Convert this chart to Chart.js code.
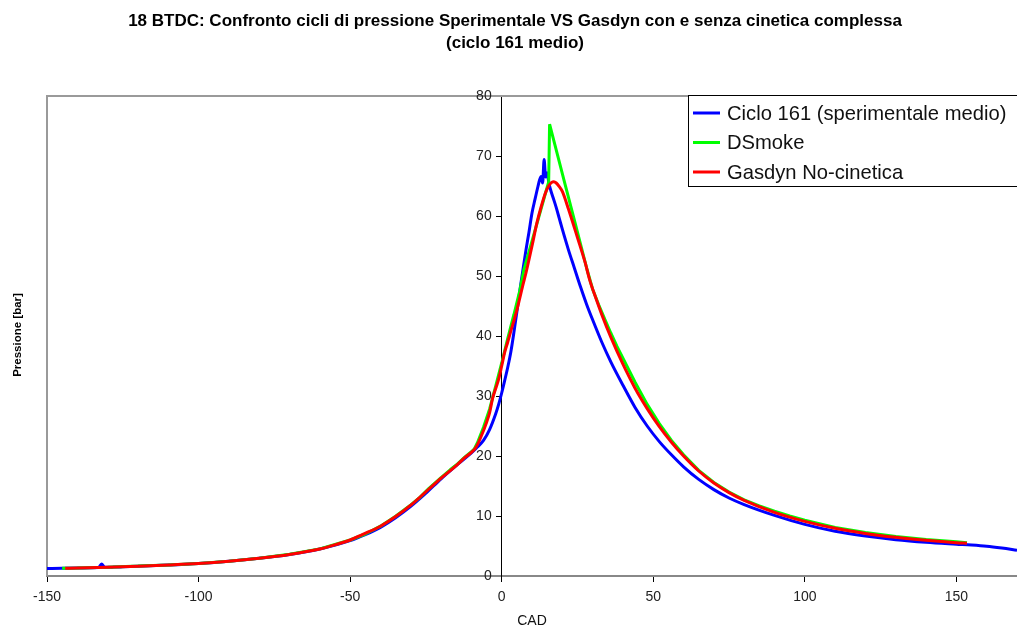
<!DOCTYPE html>
<html>
<head>
<meta charset="utf-8">
<script src="https://cdn.jsdelivr.net/npm/chart.js@4/dist/chart.umd.min.js"></script>
<style>
  html, body { margin: 0; padding: 0; background: #ffffff; overflow: hidden; }
  canvas { display: block; }
</style>
</head>
<body>
<canvas id="chart" width="1017" height="630"></canvas>
<script>
// Titles and labels
const titleLines = [
  '18 BTDC: Confronto cicli di pressione Sperimentale VS Gasdyn con e senza cinetica complessa',
  '(ciclo 161 medio)'
];
const xAxisTitle = 'CAD';
const yAxisTitle = 'Pressione [bar]';
const seriesLabels = ['Ciclo 161 (sperimentale medio)', 'DSmoke', 'Gasdyn No-cinetica'];

// Axis ranges and tick steps
const xRange = [-150, 170];
const xStep = 50;
const yRange = [0, 80];
const yStep = 10;

// Ciclo 161 (experimental mean cycle): crank angle [deg] and pressure [bar]
const cadSper = [-150, -145, -140, -135, -133, -132, -131, -128, -125, -120, -110, -100, -90, -80, -70, -60,
  -50, -45, -40, -35, -30, -25, -20, -15, -10, -8, -6, -4, -2, -1, 0, 1, 2, 3, 4, 5, 6, 7, 8, 9, 10, 11, 12,
  12.5, 13, 13.5, 14, 14.5, 15, 15.5, 16, 17, 18, 19, 20, 22, 24, 26, 28, 30, 33, 36, 40, 44, 48, 52, 56, 60,
  65, 70, 75, 80, 90, 100, 110, 120, 130, 140, 150, 155, 160, 165, 170];
const pSper = [1.25, 1.28, 1.32, 1.38, 1.40, 2.0, 1.45, 1.48, 1.53, 1.62, 1.82, 2.08, 2.45, 2.95, 3.6, 4.5,
  5.9, 6.9, 8.1, 9.7, 11.6, 13.8, 16.2, 18.4, 20.5, 21.5, 22.6, 24.4, 27.0, 28.6, 30.5, 32.6, 34.8, 37.3, 40.5, 44.0, 47.6, 51.0, 54.3, 57.3, 60.5, 62.8, 65.0,
  66.0, 66.6, 65.5, 69.4, 66.5, 67.2, 65.7, 64.6, 63.0, 61.4, 59.6, 57.8, 54.4, 51.3, 48.2, 45.3, 42.7, 39.0, 35.7, 31.8, 28.1, 25.0, 22.4, 20.2, 18.2,
  16.1, 14.4, 13.0, 11.9, 10.1, 8.6, 7.45, 6.65, 6.05, 5.62, 5.3, 5.15, 4.95, 4.65, 4.3];

// DSmoke simulation
const cadDsmoke = [-145, -140, -130, -120, -110, -100, -90, -80, -70, -60, -50, -45, -40, -35, -30, -27, -24, -20,
  -17, -15, -12, -10, -9, -8, -6, -4, -2, 0, 2, 4, 6, 7.3, 10, 12, 14, 15.5, 15.8, 21, 24.3, 28.2, 30, 32, 34, 36,
  38, 40, 44, 48, 52, 56, 60, 65, 70, 75, 80, 85, 90, 95, 100, 110, 120, 130, 140, 150, 153.5];
const pDsmoke = [1.3, 1.33, 1.46, 1.65, 1.85, 2.1, 2.47, 2.97, 3.62, 4.52, 6.0, 7.0, 8.3, 9.95, 11.85, 13.1, 14.6, 16.4,
  17.7, 18.5, 19.9, 20.7, 21.2, 22.2, 24.8, 27.8, 31.6, 35.5, 39.6, 43.5, 47.6, 51.0, 55.8, 59.4, 63.0, 65.7, 75.3, 65.1, 58.7, 51.0, 47.8, 45.2, 42.8, 40.5,
  38.3, 36.3, 32.3, 28.6, 25.4, 22.6, 20.2, 17.6, 15.6, 14.0, 12.7, 11.7, 10.8, 10.0, 9.3, 8.1, 7.25, 6.6, 6.1, 5.7, 5.55];

// Gasdyn without complex kinetics
const cadGasdyn = [-144, -140, -130, -120, -110, -100, -90, -80, -70, -60, -57, -50, -46, -40, -35, -30, -24, -20,
  -15, -12, -10, -9, -8, -7, -5, -4, -3, -2, -1, 0, 1, 2, 3, 4, 5, 6, 7, 8, 10, 11.6, 13, 14.4, 15.5, 16.5, 17.2,
  18, 19, 20, 22, 25, 27.5, 29, 31, 33, 36, 40, 44, 48, 52, 56, 60, 65, 70, 75, 80, 90, 100, 110, 120, 130,
  140, 150, 153.5];
const pGasdyn = [1.28, 1.32, 1.45, 1.64, 1.84, 2.08, 2.45, 2.95, 3.6, 4.5, 4.9, 6.0, 6.9, 8.3, 9.9, 11.8, 14.5, 16.3,
  18.4, 19.8, 20.6, 21.1, 21.9, 23.0, 25.6, 27.2, 29.6, 31.2, 32.8, 35.0, 37.3, 39.0, 40.8, 42.5, 44.3, 46.4, 48.5, 50.5, 55.0, 58.8, 61.5, 63.8, 65.0, 65.6, 65.7,
  65.5, 64.9, 64.1, 61.2, 56.4, 52.3, 49.4, 46.4, 43.6, 39.8, 35.3, 31.3, 27.9, 24.9, 22.3, 20.0, 17.5, 15.5, 13.9, 12.6, 10.6, 9.1, 7.95, 7.1, 6.45,
  5.95, 5.55, 5.45];

const seriesColors = ['#0000ff', '#00ff00', '#ff0000'];
const FONT = "'Liberation Sans', Arial, sans-serif";

const toPoints = (xs, ys) => xs.map((x, i) => ({ x: x, y: ys[i] }));

const lineStyle = (label, color, data, order, smooth) => ({
  label: label,
  data: data,
  borderColor: color,
  backgroundColor: color,
  borderWidth: 3,
  borderJoinStyle: smooth ? 'round' : 'bevel',
  pointRadius: 0,
  fill: false,
  cubicInterpolationMode: smooth ? 'monotone' : 'default',
  tension: 0,
  order: order
});

// Plot frame, y tick labels, axis title, main title and legend box
const decorations = {
  id: 'decorations',
  beforeDatasetsDraw(chart) {
    const { ctx, chartArea } = chart;
    ctx.save();
    ctx.strokeStyle = '#9a9a9a';
    ctx.lineWidth = 2;
    ctx.beginPath();
    ctx.moveTo(chartArea.left, chartArea.bottom);
    ctx.lineTo(chartArea.left, chartArea.top);
    ctx.lineTo(chartArea.right + 2, chartArea.top);
    ctx.stroke();
    ctx.restore();
  },
  afterDraw(chart) {
    const { ctx } = chart;
    const xs = chart.scales.x;
    const ys = chart.scales.y;
    ctx.save();

    // y tick labels, placed left of the axis that crosses at x = 0
    const axisX = xs.getPixelForValue(0);
    ctx.fillStyle = '#222';
    ctx.font = '14px ' + FONT;
    ctx.textAlign = 'right';
    ctx.textBaseline = 'middle';
    ys.ticks.forEach(t => {
      ctx.fillText(t.label, axisX - 10, ys.getPixelForValue(t.value));
    });

    // main title
    ctx.fillStyle = '#000';
    ctx.textAlign = 'center';
    ctx.font = 'bold 17px ' + FONT;
    ctx.fillText(titleLines[0], 515, 21.5);
    ctx.fillText(titleLines[1], 515, 43.5);

    // y axis title
    ctx.save();
    ctx.translate(18, 335);
    ctx.rotate(-Math.PI / 2);
    ctx.font = 'bold 11.5px ' + FONT;
    ctx.fillText(yAxisTitle, 0, 0);
    ctx.restore();

    // legend
    const lx = 688, ly = 95, lh = 91;
    ctx.fillStyle = '#fff';
    ctx.fillRect(lx, ly, 340, lh);
    ctx.strokeStyle = '#000';
    ctx.lineWidth = 1;
    ctx.strokeRect(lx + 0.5, ly + 0.5, 340, lh);
    ctx.font = '20.2px ' + FONT;
    ctx.textAlign = 'left';
    ctx.textBaseline = 'middle';
    const rows = [113, 142.5, 172];
    chart.data.datasets.forEach((ds, i) => {
      ctx.strokeStyle = ds.borderColor;
      ctx.lineWidth = 3;
      ctx.beginPath();
      ctx.moveTo(693, rows[i]);
      ctx.lineTo(720, rows[i]);
      ctx.stroke();
      ctx.fillStyle = '#111';
      ctx.fillText(ds.label, 727, rows[i] + 1);
    });
    ctx.restore();
  }
};

new Chart(document.getElementById('chart'), {
  type: 'line',
  data: {
    datasets: [
      lineStyle(seriesLabels[0], seriesColors[0], toPoints(cadSper, pSper), 2, true),
      lineStyle(seriesLabels[1], seriesColors[1], toPoints(cadDsmoke, pDsmoke), 1, false),
      lineStyle(seriesLabels[2], seriesColors[2], toPoints(cadGasdyn, pGasdyn), 0, true)
    ]
  },
  options: {
    responsive: false,
    animation: false,
    devicePixelRatio: 1,
    layout: { padding: { left: 47, right: 0, top: 96, bottom: 0 } },
    plugins: {
      legend: { display: false },
      title: { display: false },
      tooltip: { enabled: false }
    },
    scales: {
      x: {
        type: 'linear',
        position: 'bottom',
        min: xRange[0],
        max: xRange[1],
        ticks: {
          stepSize: xStep,
          includeBounds: false,
          maxRotation: 0,
          autoSkip: false,
          padding: 7,
          color: '#222',
          font: { family: FONT, size: 14 }
        },
        grid: { drawOnChartArea: false, drawTicks: true, tickLength: 6, tickColor: '#000', tickWidth: 1 },
        border: { display: true, color: '#888', width: 2 },
        title: {
          display: true,
          text: xAxisTitle,
          color: '#111',
          font: { family: FONT, size: 14 },
          padding: { top: 4, bottom: 0 }
        },
        afterFit(scale) { scale.height = 54; }
      },
      y: {
        type: 'linear',
        position: { x: 0 },
        min: yRange[0],
        max: yRange[1],
        ticks: { stepSize: yStep, display: false },
        grid: { drawOnChartArea: false, drawTicks: true, tickLength: 5, tickColor: '#000', tickWidth: 1 },
        border: { display: true, color: '#000', width: 1 }
      }
    }
  },
  plugins: [decorations]
});
</script>
</body>
</html>
